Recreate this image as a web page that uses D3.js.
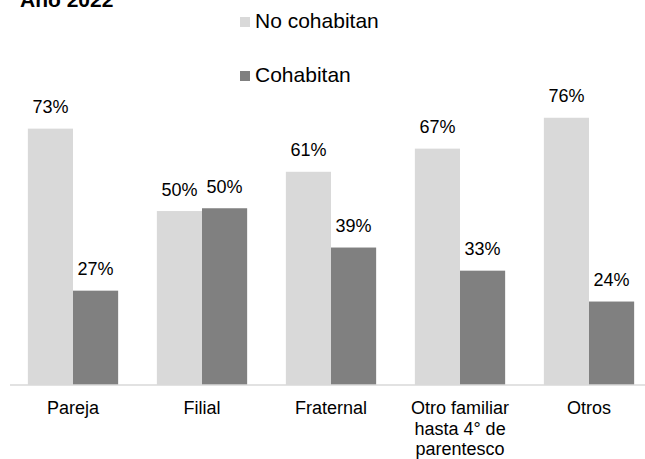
<!DOCTYPE html>
<html>
<head>
<meta charset="utf-8">
<script src="https://cdn.jsdelivr.net/npm/d3@7"></script>
<style>
  body { margin: 0; background: #fff; }
  svg { display: block; font-family: Arial, "Liberation Sans", sans-serif; }
</style>
</head>
<body>
<svg width="645" height="459"></svg>
<script>
// data
const categories = ["Pareja", "Filial", "Fraternal", "Otro familiar|hasta 4° de|parentesco", "Otros"];
const seriesNames = ["No cohabitan", "Cohabitan"];
const noCohabitan = [0.731, 0.496, 0.608, 0.674, 0.762];
const cohabitan = [0.269, 0.504, 0.392, 0.326, 0.238];
const colors = ["#d9d9d9", "#808080"];

let width = 645, height = 459;
let svg = d3.select("svg");

let rows = categories.map((c, i) => ({cat: c, vals: [noCohabitan[i], cohabitan[i]]}));

let xScale = d3.scaleBand()
    .domain(categories)
    .range([8.5, 653.5])
    .paddingInner(0.3)
    .paddingOuter(0.15);

let xSub = d3.scaleBand()
    .domain(d3.range(seriesNames.length))
    .range([0, xScale.bandwidth()]);

let yScale = d3.scaleLinear()
    .domain([0, 1])
    .range([385, 34.3]);

/// title (clipped at top like the original) ///
svg.append("text")
    .attr("x", 20)
    .attr("y", 7)
    .style("font-size", "21px")
    .style("font-weight", "bold")
    .text("Año 2022");

/// legend ///
let legend = svg.selectAll(".legend")
    .data(seriesNames)
    .enter()
    .append("g")
    .attr("transform", (d, i) => `translate(240, ${28 + i * 54})`);

legend.append("rect")
    .attr("x", 0)
    .attr("y", -11)
    .attr("width", 10)
    .attr("height", 10)
    .attr("fill", (d, i) => colors[i]);

legend.append("text")
    .attr("x", 15)
    .attr("y", 0)
    .style("font-size", "21px")
    .attr("fill", "#000")
    .text(d => d);

/// bars ///
let groups = svg.selectAll(".grp")
    .data(rows)
    .enter()
    .append("g")
    .attr("transform", d => `translate(${xScale(d.cat)}, 0)`);

groups.selectAll("rect")
    .data(d => d.vals)
    .enter()
    .append("rect")
    .attr("x", (v, i) => xSub(i))
    .attr("width", xSub.bandwidth())
    .attr("y", v => yScale(v))
    .attr("height", v => yScale(0) - yScale(v))
    .attr("fill", (v, i) => colors[i]);

groups.selectAll(".value")
    .data(d => d.vals)
    .enter()
    .append("text")
    .attr("class", "value")
    .attr("x", (v, i) => xSub(i) + xSub.bandwidth() / 2)
    .attr("y", v => yScale(v) - 15.5)
    .attr("text-anchor", "middle")
    .style("font-size", "18px")
    .attr("fill", "#000")
    .text(v => d3.format(".0%")(v));

/// axis ///
let xAxis = svg.append("g")
    .attr("transform", `translate(0, ${yScale(0)})`)
    .call(d3.axisBottom(xScale).tickSize(0).tickFormat(""));
xAxis.select(".domain")
    .attr("d", "M10,0H645")
    .attr("stroke", "#d9d9d9")
    .attr("stroke-width", 1.5);

/// category labels (multi-line) ///
xAxis.selectAll(".tick").each(function (d) {
    let t = d3.select(this).append("text")
        .attr("fill", "#000")
        .attr("text-anchor", "middle")
        .style("font-size", "18px")
        .style("font-family", "Arial, 'Liberation Sans', sans-serif");
    d.split("|").forEach((line, i) => {
        t.append("tspan")
            .attr("x", 0)
            .attr("y", 29 + i * 20.5)
            .text(line);
    });
});
</script>
</body>
</html>
